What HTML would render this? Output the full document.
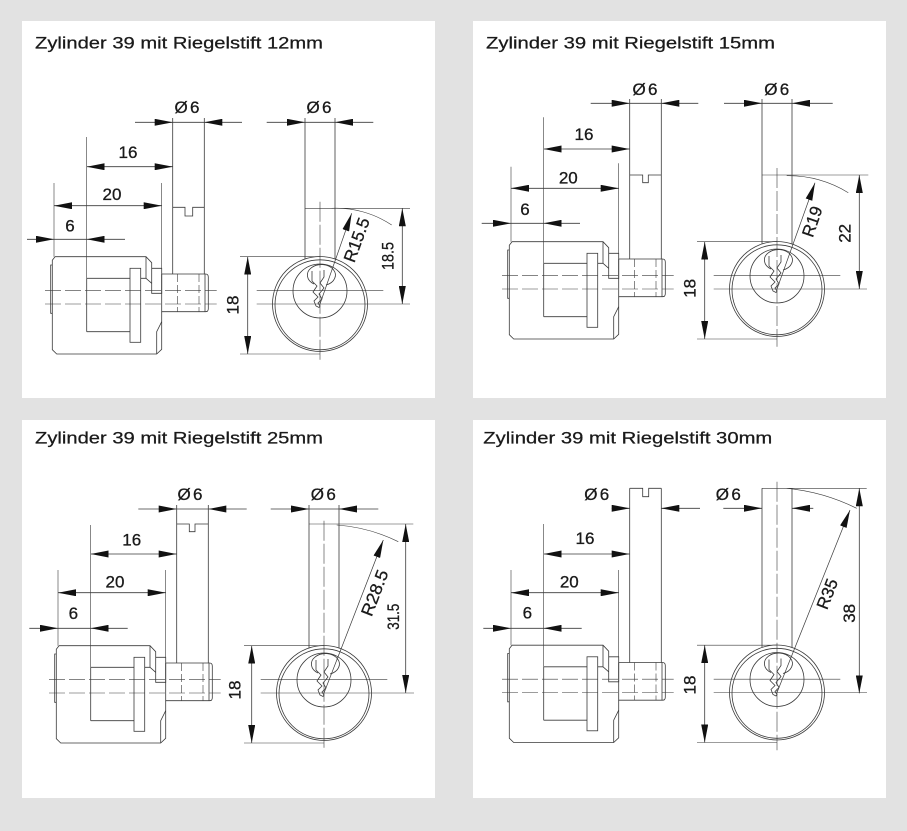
<!DOCTYPE html>
<html><head><meta charset="utf-8"><style>
html,body{margin:0;padding:0;background:#e2e2e2;}
svg{display:block;}
text{font-family:"Liberation Sans",sans-serif;fill:#1a1a1a;stroke:#1a1a1a;stroke-width:0.3px;}
.t{font-size:16.5px;stroke-width:0.25px;}
.d{font-size:17px;}
</style></head><body>
<svg width="907" height="831" viewBox="0 0 907 831" xmlns="http://www.w3.org/2000/svg">
<defs>
<marker id="ar" viewBox="0 0 18 7" refX="18" refY="3.5" markerWidth="18" markerHeight="7" markerUnits="userSpaceOnUse" orient="auto"><path d="M0,0L18,3.5L0,7z" fill="#111" stroke="none"/></marker>
<g id="side" fill="none" stroke="#3a3a3a" stroke-width="0.8">
 <path d="M55,256.7H146L151.7,262.7V293.3H161.7V268.3H151.7"/>
 <path d="M146,256.7V278.3L151.7,283.3"/>
 <path d="M161.7,311.7V349.3L156.7,354H56.7L52.3,349.7V260.3L55,256.7"/>
 <path d="M161.7,321.7L156.7,331.7V354"/>
 <path d="M52.3,265H50.7V313.3H52.3"/>
 <path d="M86.7,278.3H130M140.7,278.3H146M86.7,331.7H130M86.7,278.3V331.7"/>
 <rect x="130" y="268.3" width="10.7" height="74"/>
 <path d="M161.7,274H205.5Q208.3,274 208.3,277V308.7Q208.3,311.7 205.5,311.7H161.7V274"/>
 <path d="M205,274V311.7"/>
 <path d="M177.7,274V311.7M199,274V311.7" stroke-dasharray="8 3" stroke-width="0.6"/>
 <path d="M45,290.7H216.7M45,304H216.7" stroke-width="0.6" stroke-dasharray="16 4"/>
</g>
<g id="front" fill="none" stroke="#3a3a3a" stroke-width="0.8">
 <circle cx="320" cy="304" r="47.5"/>
 <circle cx="320" cy="304.8" r="45"/>
 <circle cx="320" cy="291" r="27"/>
 <g transform="translate(320,291)">
  <path d="M-6,-7A14,10.5 0 1 1 6,-6"/>
  <path d="M-8,-20V-10L-3,-5L-7,1L-2,6L-6,10L-4,15L-1,16.5L0,15L-2,12L2,8L-1,3L4,-3L0,-8L4,-14L4,-21"/>
 </g>
 <path d="M256.7,290.7H383.3M256.7,304H410" stroke-width="0.6"/>
 <path d="M240,256.7H320M240,354H320" stroke-width="0.6"/>
 <line x1="247.7" y1="305" x2="247.7" y2="256.7" marker-end="url(#ar)"/>
 <line x1="247.7" y1="305" x2="247.7" y2="354" marker-end="url(#ar)"/>
</g>
</defs>

<rect x="0" y="0" width="907" height="831" fill="#e2e2e2"/>
<rect x="22" y="21" width="413" height="377" fill="#fff"/>
<rect x="473" y="21" width="413" height="377" fill="#fff"/>
<rect x="22" y="420" width="413" height="378" fill="#fff"/>
<rect x="473" y="420" width="413" height="378" fill="#fff"/>

<text class="t" x="35" y="48.3" textLength="288" lengthAdjust="spacingAndGlyphs">Zylinder 39 mit Riegelstift 12mm</text>
<text class="t" x="486" y="48.3" textLength="289" lengthAdjust="spacingAndGlyphs">Zylinder 39 mit Riegelstift 15mm</text>
<text class="t" x="35" y="443.3" textLength="288" lengthAdjust="spacingAndGlyphs">Zylinder 39 mit Riegelstift 25mm</text>
<text class="t" x="483.3" y="443.3" textLength="289" lengthAdjust="spacingAndGlyphs">Zylinder 39 mit Riegelstift 30mm</text>

<!-- Panel 1 -->
<g transform="translate(0,0)">
 <use href="#side"/><use href="#front"/>
 <g fill="none" stroke="#3a3a3a" stroke-width="0.8">
  <line x1="135" y1="122.3" x2="172.7" y2="122.3" marker-end="url(#ar)"/>
  <line x1="172.7" y1="122.3" x2="204.3" y2="122.3"/>
  <line x1="242" y1="122.3" x2="204.3" y2="122.3" marker-end="url(#ar)"/>
  <path d="M172.7,118V274M204.3,118V274"/>
  <path d="M172.7,207.3H185V216H192.7V207.3H204.3"/>
  <line x1="129" y1="166.7" x2="86.7" y2="166.7" marker-end="url(#ar)"/>
  <line x1="129" y1="166.7" x2="172.7" y2="166.7" marker-end="url(#ar)"/>
  <line x1="108" y1="205.7" x2="54" y2="205.7" marker-end="url(#ar)"/>
  <line x1="108" y1="205.7" x2="161.7" y2="205.7" marker-end="url(#ar)"/>
  <line x1="27" y1="239.3" x2="54" y2="239.3" marker-end="url(#ar)"/>
  <line x1="54" y1="239.3" x2="86.7" y2="239.3"/>
  <line x1="125" y1="239.3" x2="86.7" y2="239.3" marker-end="url(#ar)"/>
  <path d="M54,183V256.7M86.7,137V278.3M161.7,183V268.3" stroke-width="0.6"/>
  <line x1="266.7" y1="122.3" x2="305" y2="122.3" marker-end="url(#ar)"/>
  <line x1="305" y1="122.3" x2="335" y2="122.3"/>
  <line x1="373.3" y1="122.3" x2="335" y2="122.3" marker-end="url(#ar)"/>
  <path d="M305,118V259M335,118V259"/>
  <path d="M305,208.3H410" stroke-width="0.6"/>
  <path d="M320,201.7V361.7" stroke-width="0.6" stroke-dasharray="20 3"/>
  <line x1="402.3" y1="256" x2="402.3" y2="208.3" marker-end="url(#ar)"/>
  <line x1="402.3" y1="256" x2="402.3" y2="304" marker-end="url(#ar)"/>
  <line x1="320" y1="304" x2="351.7" y2="213.3" marker-end="url(#ar)" stroke-width="0.7"/>
  <path d="M331.7,208.3A100,100 0 0 1 391.7,225" stroke-width="0.6"/>
 </g>
 <text class="d" x="187" y="113" text-anchor="middle" textLength="25" lengthAdjust="spacing">Ø6</text>
 <text class="d" x="128" y="158" text-anchor="middle">16</text>
 <text class="d" x="112" y="200" text-anchor="middle">20</text>
 <text class="d" x="70" y="231.7" text-anchor="middle">6</text>
 <text class="d" x="319" y="113" text-anchor="middle" textLength="25" lengthAdjust="spacing">Ø6</text>
 <text class="d" x="233" y="305" text-anchor="middle" dominant-baseline="central" transform="rotate(-90 233 305)">18</text>
 <text class="d" x="388" y="256" text-anchor="middle" dominant-baseline="central" transform="rotate(-90 388 256)" textLength="28" lengthAdjust="spacingAndGlyphs">18.5</text>
 <text class="d" x="357" y="240" text-anchor="middle" dominant-baseline="central" transform="rotate(-70 357 240)" textLength="46" lengthAdjust="spacingAndGlyphs">R15.5</text>
</g>

<!-- Panel 2 -->
<g transform="translate(457,-15)">
 <use href="#side"/><use href="#front"/>
 <g fill="none" stroke="#3a3a3a" stroke-width="0.8">
  <line x1="133.7" y1="118.3" x2="172.7" y2="118.3" marker-end="url(#ar)"/>
  <line x1="172.7" y1="118.3" x2="204.3" y2="118.3"/>
  <line x1="241.3" y1="118.3" x2="204.3" y2="118.3" marker-end="url(#ar)"/>
  <path d="M172.7,114V274M204.3,114V274"/>
  <path d="M172.7,190H185.7V197.7H191.3V190H204.3"/>
  <line x1="129" y1="164" x2="86.7" y2="164" marker-end="url(#ar)"/>
  <line x1="129" y1="164" x2="172.7" y2="164" marker-end="url(#ar)"/>
  <line x1="108" y1="203.3" x2="54" y2="203.3" marker-end="url(#ar)"/>
  <line x1="108" y1="203.3" x2="161.7" y2="203.3" marker-end="url(#ar)"/>
  <line x1="24.7" y1="238.3" x2="54" y2="238.3" marker-end="url(#ar)"/>
  <line x1="54" y1="238.3" x2="86.7" y2="238.3"/>
  <line x1="123" y1="238.3" x2="86.7" y2="238.3" marker-end="url(#ar)"/>
  <path d="M54,181.7V256.7M86.7,132.3V278.3M161.7,178.3V268.3" stroke-width="0.6"/>
  <line x1="267" y1="118.3" x2="305" y2="118.3" marker-end="url(#ar)"/>
  <line x1="305" y1="118.3" x2="335" y2="118.3"/>
  <line x1="375.7" y1="118.3" x2="335" y2="118.3" marker-end="url(#ar)"/>
  <path d="M305,114V259M335,114V259"/>
  <path d="M305,190H411.3" stroke-width="0.6"/>
  <path d="M320,183V361.7" stroke-width="0.6" stroke-dasharray="20 3"/>
  <line x1="402.3" y1="247" x2="402.3" y2="190" marker-end="url(#ar)"/>
  <line x1="402.3" y1="247" x2="402.3" y2="304" marker-end="url(#ar)"/>
  <line x1="320" y1="304" x2="358" y2="197.7" marker-end="url(#ar)" stroke-width="0.7"/>
  <path d="M329.7,190.7A115,115 0 0 1 391.3,207.7" stroke-width="0.6"/>
 </g>
 <text class="d" x="188" y="110" text-anchor="middle" textLength="25" lengthAdjust="spacing">Ø6</text>
 <text class="d" x="127" y="155" text-anchor="middle">16</text>
 <text class="d" x="111.3" y="198.3" text-anchor="middle">20</text>
 <text class="d" x="68" y="230" text-anchor="middle">6</text>
 <text class="d" x="319.7" y="110" text-anchor="middle" textLength="25" lengthAdjust="spacing">Ø6</text>
 <text class="d" x="233" y="303.3" text-anchor="middle" dominant-baseline="central" transform="rotate(-90 233 303.3)">18</text>
 <text class="d" x="388" y="248.3" text-anchor="middle" dominant-baseline="central" transform="rotate(-90 388 248.3)">22</text>
 <text class="d" x="355.5" y="236.7" text-anchor="middle" dominant-baseline="central" transform="rotate(-71 355.5 236.7)">R19</text>
</g>

<!-- Panel 3 -->
<g transform="translate(4,389)">
 <use href="#side"/><use href="#front"/>
 <g fill="none" stroke="#3a3a3a" stroke-width="0.8">
  <line x1="134.3" y1="120" x2="172.7" y2="120" marker-end="url(#ar)"/>
  <line x1="172.7" y1="120" x2="204.3" y2="120"/>
  <line x1="242.7" y1="120" x2="204.3" y2="120" marker-end="url(#ar)"/>
  <path d="M172.7,116V274M204.3,116V274"/>
  <path d="M172.7,135H185.3V142.7H191V135H204.3"/>
  <line x1="129" y1="165" x2="86.7" y2="165" marker-end="url(#ar)"/>
  <line x1="129" y1="165" x2="172.7" y2="165" marker-end="url(#ar)"/>
  <line x1="108" y1="203.7" x2="54" y2="203.7" marker-end="url(#ar)"/>
  <line x1="108" y1="203.7" x2="161.7" y2="203.7" marker-end="url(#ar)"/>
  <line x1="25.3" y1="239.3" x2="54" y2="239.3" marker-end="url(#ar)"/>
  <line x1="54" y1="239.3" x2="86.7" y2="239.3"/>
  <line x1="123.7" y1="239.3" x2="86.7" y2="239.3" marker-end="url(#ar)"/>
  <path d="M54,181V256.7M86.7,136V278.3M161.7,181V268.3" stroke-width="0.6"/>
  <line x1="266.7" y1="120" x2="305" y2="120" marker-end="url(#ar)"/>
  <line x1="305" y1="120" x2="335" y2="120"/>
  <line x1="374.3" y1="120" x2="335" y2="120" marker-end="url(#ar)"/>
  <path d="M305,116V259M335,116V259"/>
  <path d="M305,135H409.3" stroke-width="0.6"/>
  <path d="M320,131.7V361.7" stroke-width="0.6" stroke-dasharray="20 3"/>
  <line x1="401.7" y1="220" x2="401.7" y2="135" marker-end="url(#ar)"/>
  <line x1="401.7" y1="220" x2="401.7" y2="304" marker-end="url(#ar)"/>
  <line x1="320" y1="304" x2="379.3" y2="151" marker-end="url(#ar)" stroke-width="0.7"/>
  <path d="M332.7,136A165,165 0 0 1 394.3,152.7" stroke-width="0.6"/>
 </g>
 <text class="d" x="186" y="111" text-anchor="middle" textLength="25" lengthAdjust="spacing">Ø6</text>
 <text class="d" x="127.7" y="156.7" text-anchor="middle">16</text>
 <text class="d" x="111" y="198.7" text-anchor="middle">20</text>
 <text class="d" x="69.3" y="230" text-anchor="middle">6</text>
 <text class="d" x="319.3" y="111" text-anchor="middle" textLength="25" lengthAdjust="spacing">Ø6</text>
 <text class="d" x="231" y="301" text-anchor="middle" dominant-baseline="central" transform="rotate(-90 231 301)">18</text>
 <text class="d" x="389.3" y="227.7" text-anchor="middle" dominant-baseline="central" transform="rotate(-90 389.3 227.7)" textLength="26" lengthAdjust="spacingAndGlyphs">31.5</text>
 <text class="d" x="371" y="204" text-anchor="middle" dominant-baseline="central" transform="rotate(-69 371 204)" textLength="48" lengthAdjust="spacingAndGlyphs">R28.5</text>
</g>

<!-- Panel 4 -->
<g transform="translate(457,388.5)">
 <use href="#side"/><use href="#front"/>
 <g fill="none" stroke="#3a3a3a" stroke-width="0.8">
  <line x1="154.7" y1="119.8" x2="172.7" y2="119.8" marker-end="url(#ar)"/>
  <line x1="243" y1="119.8" x2="204.3" y2="119.8" marker-end="url(#ar)"/>
  <path d="M172.7,99.8V274M204.3,99.8V274"/>
  <path d="M172.7,99.8H185.7V108.2H191.7V99.8H204.3"/>
  <line x1="129" y1="165.5" x2="86.7" y2="165.5" marker-end="url(#ar)"/>
  <line x1="129" y1="165.5" x2="172.7" y2="165.5" marker-end="url(#ar)"/>
  <line x1="108" y1="204.2" x2="54" y2="204.2" marker-end="url(#ar)"/>
  <line x1="108" y1="204.2" x2="161.7" y2="204.2" marker-end="url(#ar)"/>
  <line x1="26.3" y1="239.8" x2="54" y2="239.8" marker-end="url(#ar)"/>
  <line x1="54" y1="239.8" x2="86.7" y2="239.8"/>
  <line x1="124.7" y1="239.8" x2="86.7" y2="239.8" marker-end="url(#ar)"/>
  <path d="M54,181.5V256.7M86.7,135.5V278.3M161.7,181.5V268.3" stroke-width="0.6"/>
  <line x1="266.3" y1="119.8" x2="305" y2="119.8" marker-end="url(#ar)"/>
  <line x1="356.3" y1="119.8" x2="335" y2="119.8" marker-end="url(#ar)"/>
  <path d="M305,99.8V259M335,99.8V259"/>
  <path d="M305,99.8H409.7" stroke-width="0.6"/>
  <path d="M320,93.2V361.7" stroke-width="0.6" stroke-dasharray="20 3"/>
  <line x1="402.3" y1="202" x2="402.3" y2="99.8" marker-end="url(#ar)"/>
  <line x1="402.3" y1="202" x2="402.3" y2="304.8" marker-end="url(#ar)"/>
  <line x1="320" y1="304" x2="393" y2="121.5" marker-end="url(#ar)" stroke-width="0.7"/>
  <path d="M329.7,99.8A200,200 0 0 1 399.7,119.8" stroke-width="0.6"/>
 </g>
 <text class="d" x="139.7" y="111.5" text-anchor="middle" textLength="25" lengthAdjust="spacing">Ø6</text>
 <text class="d" x="128" y="155.5" text-anchor="middle">16</text>
 <text class="d" x="112.3" y="199.2" text-anchor="middle">20</text>
 <text class="d" x="70.3" y="229.8" text-anchor="middle">6</text>
 <text class="d" x="271.3" y="111.5" text-anchor="middle" textLength="25" lengthAdjust="spacing">Ø6</text>
 <text class="d" x="233" y="296.5" text-anchor="middle" dominant-baseline="central" transform="rotate(-90 233 296.5)">18</text>
 <text class="d" x="392.3" y="224.8" text-anchor="middle" dominant-baseline="central" transform="rotate(-90 392.3 224.8)">38</text>
 <text class="d" x="370.5" y="205.5" text-anchor="middle" dominant-baseline="central" transform="rotate(-69 370.5 205.5)">R35</text>
</g>
</svg>
</body></html>
